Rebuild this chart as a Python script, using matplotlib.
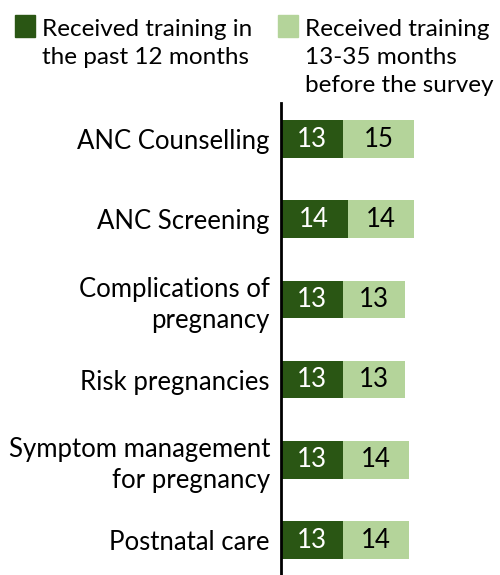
"""
Stacked horizontal bars: timing of ANC training received by providers.
"""

import numpy as np
import matplotlib
matplotlib.use("Agg")
import matplotlib.pyplot as plt
from matplotlib.patches import Rectangle

topics = [
    "ANC Counselling",
    "ANC Screening",
    "Complications of\npregnancy",
    "Risk pregnancies",
    "Symptom management\nfor pregnancy",
    "Postnatal care",
]
past_12 = [13, 14, 13, 13, 13, 13]
months_13_35 = [15, 14, 13, 13, 14, 14]

legend_labels = [
    "Received training in\nthe past 12 months",
    "Received training\n13-35 months\nbefore the survey",
]

DARK = "#2a5614"
LIGHT = "#b4d49a"
FONT = "Lato"
FS = 18.5
LEG_FS = 17.5

plt.rcParams["font.family"] = [FONT, "DejaVu Sans"]

W, H = 500, 575
fig = plt.figure(figsize=(W / 100, H / 100), dpi=100)
ax = fig.add_axes([281 / W, 0, 1 - 281 / W, (H - 103) / H])

y = np.arange(len(topics))
bh = 0.47
p12 = np.array(past_12)
p35 = np.array(months_13_35)
ax.barh(y, p12, height=bh, color=DARK)
ax.barh(y, p35, left=p12, height=bh, color=LIGHT)

for yi, a, b in zip(y, p12, p35):
    ax.text(a / 2, yi, str(a), ha="center", va="center", color="white", fontsize=FS)
    ax.text(a + b / 2, yi, str(b), ha="center", va="center", color="black", fontsize=FS)

ax.set_xlim(0, (W - 281) / 4.75)
ax.set_ylim(5.436, -0.449)
ax.set_yticks(y)
ax.set_yticklabels(topics, fontsize=FS, linespacing=1.3)
ax.tick_params(axis="y", length=0, pad=8)
ax.set_xticks([])
for side in ["top", "right", "bottom"]:
    ax.spines[side].set_visible(False)
ax.spines["left"].set_linewidth(2)

# legend drawn by hand to keep the wrapped layout
for x0, lab, col in zip([15, 278], legend_labels, [DARK, LIGHT]):
    fig.add_artist(Rectangle((x0 / W, 1 - 37 / H), 20 / W, 22 / H,
                             transform=fig.transFigure, color=col))
    fig.text((x0 + 27) / W, 1 - 19 / H, lab, ha="left", va="top",
             fontsize=LEG_FS, linespacing=1.4)

fig.savefig("out.png", dpi=100)
